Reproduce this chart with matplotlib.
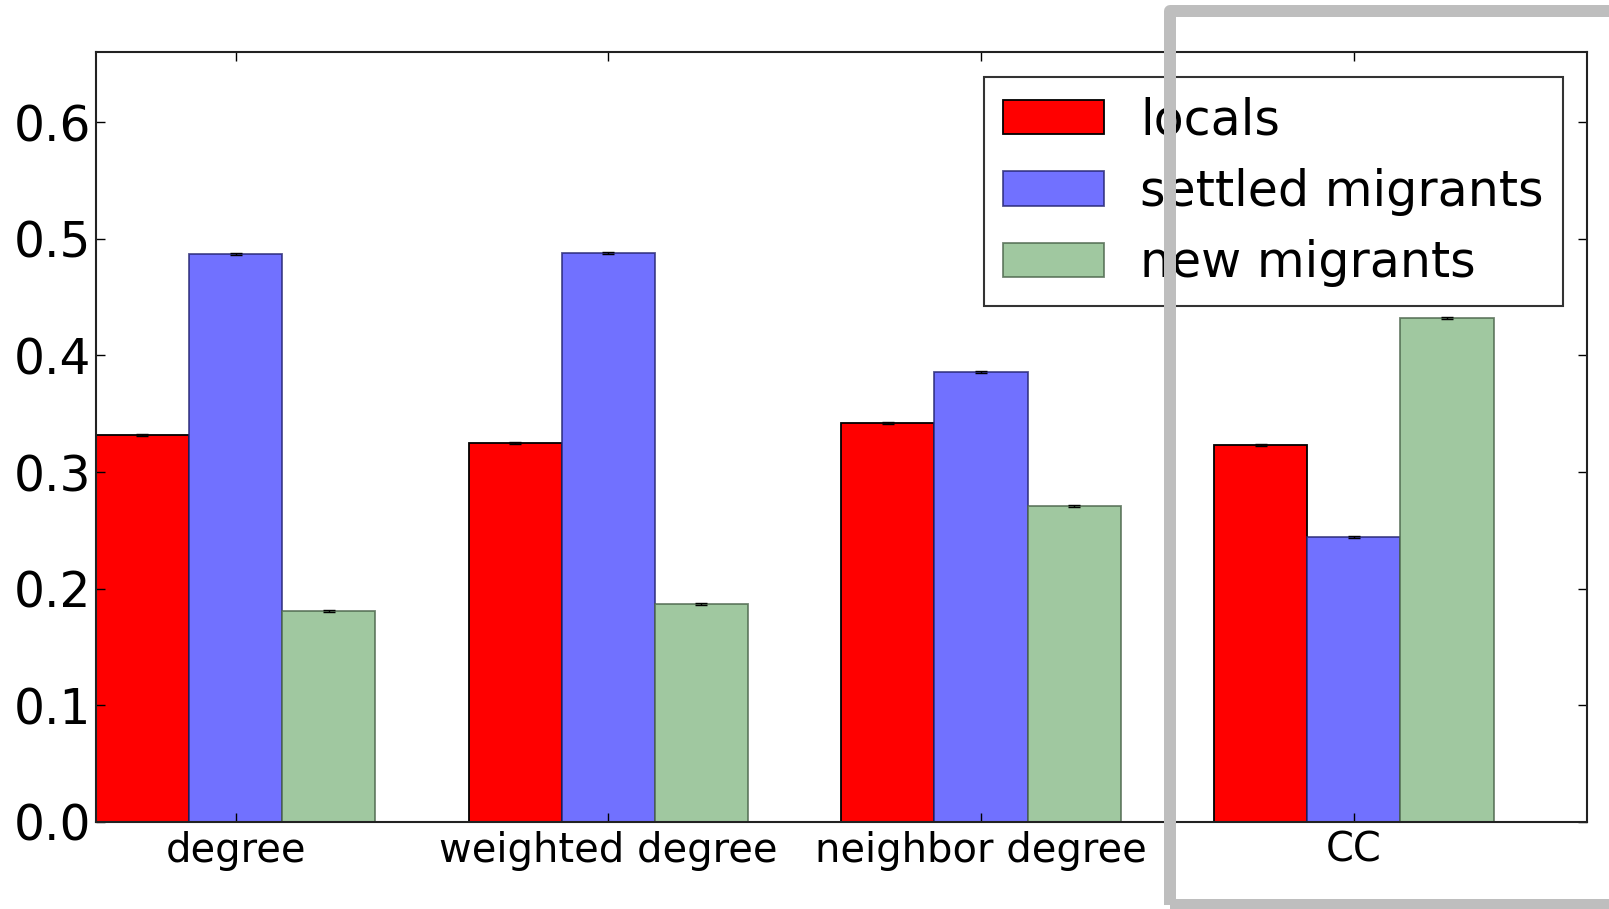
import numpy as np
import matplotlib
matplotlib.use("Agg")
import matplotlib.pyplot as plt
from matplotlib.patches import Rectangle

# mean values per group
categories = ['degree', 'weighted degree', 'neighbor degree', 'CC']
locals_vals = [0.332, 0.325, 0.342, 0.323]
settled_vals = [0.487, 0.488, 0.386, 0.244]
new_vals = [0.181, 0.187, 0.271, 0.432]

# standard errors (very small)
locals_err = [0.0008, 0.0008, 0.0008, 0.0008]
settled_err = [0.0008, 0.0008, 0.0008, 0.0008]
new_err = [0.0008, 0.0008, 0.0008, 0.0008]

series_names = ['locals', 'settled migrants', 'new migrants']

fig = plt.figure(figsize=(16.09, 9.09), dpi=100)
ax = fig.add_axes([0.0595, 0.0960, 0.9267, 0.8464])

ind = np.arange(len(categories))
width = 0.25

err_kw = dict(ecolor='black', capsize=4.3, capthick=1.0, elinewidth=1.0)
ax.bar(ind - width, locals_vals, width, yerr=locals_err, color='#ff0000',
       edgecolor='black', linewidth=1.3, error_kw=err_kw, label=series_names[0])
ax.bar(ind, settled_vals, width, yerr=settled_err, color='#7171ff',
       edgecolor=(0.15, 0.15, 0.45, 0.8), linewidth=1.3, error_kw=err_kw,
       label=series_names[1])
ax.bar(ind + width, new_vals, width, yerr=new_err, color='#a0c8a0',
       edgecolor=(0.3, 0.4, 0.3, 0.8), linewidth=1.3, error_kw=err_kw,
       label=series_names[2])

ax.set_xlim(-0.375, 3.625)
ax.set_ylim(0, 0.66)
ax.set_xticks(ind)
ax.set_xticklabels(categories, fontsize=28.8)
ax.set_yticks([0.0, 0.1, 0.2, 0.3, 0.4, 0.5, 0.6])
ax.set_yticklabels(['0.0', '0.1', '0.2', '0.3', '0.4', '0.5', '0.6'], fontsize=35)
ax.tick_params(axis='both', direction='in', length=6.5, width=1.0,
               top=True, right=True)
ax.tick_params(axis='x', pad=6.5)
ax.tick_params(axis='y', pad=3)
for sp in ax.spines.values():
    sp.set_linewidth(1.5)
    sp.set_color('#222222')

leg = ax.legend(loc='upper right', bbox_to_anchor=(0.984, 0.968),
                borderaxespad=0, fontsize=35.3, fancybox=False,
                handlelength=2.05, handleheight=0.71, handletextpad=0.75,
                borderpad=0.39, labelspacing=0.48)
leg.get_frame().set_edgecolor('black')
leg.get_frame().set_linewidth(1.5)

# grey frame around the last group
box = Rectangle((1170 / 1609, 1 - 904.5 / 909), (1610 - 1170) / 1609,
                (904.5 - 11) / 909, transform=fig.transFigure,
                fill=False, edgecolor='#bebebe', linewidth=8.64,
                joinstyle='round', zorder=100)
fig.patches.append(box)

fig.savefig('out.png', dpi=100)
